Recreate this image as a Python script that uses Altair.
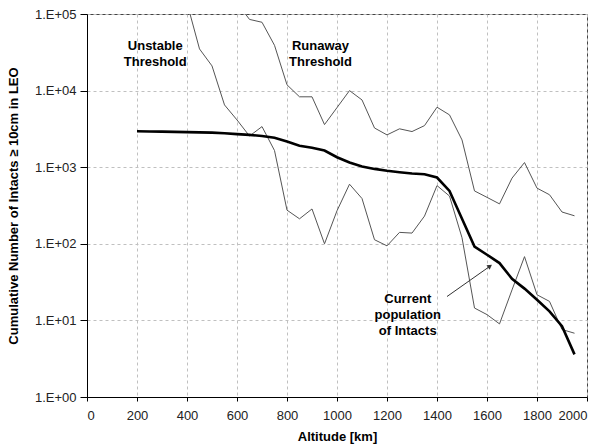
import altair as alt
import pandas as pd

# ---- data ----
alt_current = list(range(200, 2000, 50))
current = [2950, 2930, 2910, 2890, 2870, 2850, 2830, 2770, 2700, 2640, 2560, 2420,
           2160, 1910, 1790, 1650, 1350, 1150, 1020, 950, 900, 860, 826, 811, 733,
           490, 212, 92, 72, 56, 35, 26, 18.6, 13.1, 8.4, 3.6]

alt_unstable = list(range(400, 2000, 50))
unstable = [140000, 35000, 21000, 6500, 4140, 2550, 3390, 1650, 275, 212, 285, 100,
            270, 600, 390, 113, 94, 141, 138, 230, 575, 420, 120, 14.5, 11.9, 9.0,
            25, 68, 21.6, 17.7, 7.6, 6.8]

alt_runaway = list(range(600, 2000, 50))
runaway = [140000, 85000, 78000, 39000, 11900, 8300, 8300, 3600, 6000, 10000, 7550,
           3250, 2640, 3170, 2920, 3490, 6070, 4820, 2270, 490, 404, 332, 720, 1150,
           533, 437, 260, 232]

ann_text = ["Unstable", "Threshold", "Runaway", "Threshold",
            "Current", "population", "of Intacts"]
ann_x = [273, 273, 934, 934, 1283, 1283, 1283]
ann_y = [38300, 23700, 38300, 23700, 19.2, 11.9, 7.33]

arrow_from = (1440, 20.5)
arrow_to = (1612, 51)

x_ticks = list(range(0, 2001, 50))
y_ticks = [1, 10, 100, 1000, 10000, 100000]

FONT = "Liberation Sans"

df_cur = pd.DataFrame({"alt": alt_current, "n": current})
df_uns = pd.DataFrame({"alt": alt_unstable, "n": unstable})
df_run = pd.DataFrame({"alt": alt_runaway, "n": runaway})
df_ann = pd.DataFrame({"alt": ann_x, "n": ann_y, "t": ann_text})
df_arrow = pd.DataFrame({"alt": [arrow_from[0]], "n": [arrow_from[1]],
                         "alt2": [arrow_to[0]], "n2": [arrow_to[1]]})
df_head = pd.DataFrame({"alt": [arrow_to[0]], "n": [arrow_to[1]]})

x_enc = alt.X(
    "alt:Q",
    scale=alt.Scale(domain=[0, 2000], nice=False),
    axis=alt.Axis(
        title="Altitude [km]",
        values=x_ticks,
        labelExpr="datum.value % 200 === 0 ? datum.label : ''",
        format="d",
        grid=True,
        gridDash=[3, 3],
        gridColor="#c0c0c0",
        gridOpacity={"condition": {"test": "datum.value % 200 === 0", "value": 1}, "value": 0},
        domainColor="#000000",
        tickColor="#000000",
        tickSize=4,
        labelFont=FONT,
        labelFontSize=13,
        labelColor="#222222",
        labelPadding=8,
        titleFont=FONT,
        titleFontSize=13,
        titleFontWeight="bold",
        titleColor="#000000",
        titlePadding=8,
    ),
)

y_enc = alt.Y(
    "n:Q",
    scale=alt.Scale(type="log", domain=[1, 100000], nice=False),
    axis=alt.Axis(
        title="Cumulative Number of Intacts \u2265 10cm in LEO",
        values=y_ticks,
        labelExpr="'1.E+0' + round(log(datum.value) / LN10)",
        grid=True,
        gridDash=[3, 3],
        gridColor="#c0c0c0",
        domainColor="#000000",
        tickColor="#000000",
        tickSize=7,
        labelFont=FONT,
        labelFontSize=13,
        labelColor="#222222",
        labelPadding=4,
        titleFont=FONT,
        titleFontSize=13,
        titleFontWeight="bold",
        titleColor="#000000",
        titlePadding=14,
    ),
)

unst_line = alt.Chart(df_uns).mark_line(color="#555555", strokeWidth=1, clip=True).encode(x=x_enc, y=y_enc)
run_line = alt.Chart(df_run).mark_line(color="#555555", strokeWidth=1, clip=True).encode(x="alt:Q", y="n:Q")
cur_line = alt.Chart(df_cur).mark_line(color="#000000", strokeWidth=2.6, clip=True).encode(x="alt:Q", y="n:Q")

texts = alt.Chart(df_ann).mark_text(
    font=FONT, fontSize=13, fontWeight="bold", color="#000000",
    align="center", baseline="middle"
).encode(x="alt:Q", y="n:Q", text="t:N")

arrow = alt.Chart(df_arrow).mark_rule(color="#333333", strokeWidth=1).encode(
    x="alt:Q", y="n:Q", x2="alt2:Q", y2="n2:Q")
head = alt.Chart(df_head).mark_point(
    shape="triangle-up", filled=True, color="#333333", size=30, angle=55, opacity=1
).encode(x="alt:Q", y="n:Q")

chart = alt.layer(unst_line, run_line, cur_line, arrow, head, texts).properties(
    width=500, height=383,
    autosize=alt.AutoSizeParams(type="none"),
    padding={"left": 87, "top": 14, "right": 15, "bottom": 50},
    background="#ffffff",
).configure_view(stroke="#444444", strokeWidth=1)

chart.save("out.html", embed_options={"renderer": "svg", "actions": False})
